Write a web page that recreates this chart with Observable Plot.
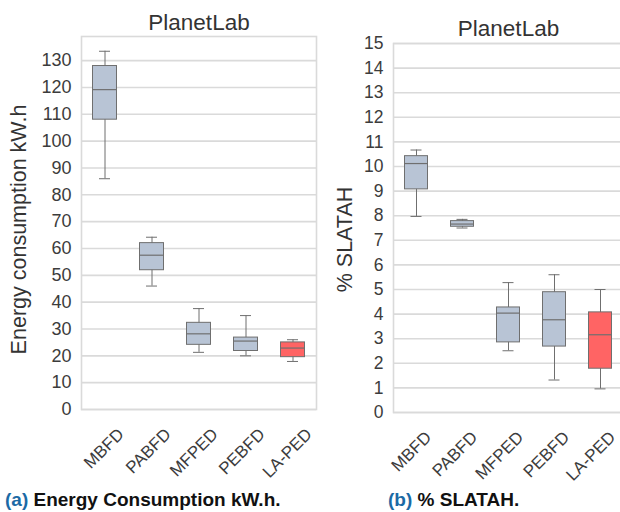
<!DOCTYPE html>
<html>
<head>
<meta charset="utf-8">
<script src="https://cdn.jsdelivr.net/npm/d3@7"></script>
<script src="https://cdn.jsdelivr.net/npm/@observablehq/plot@0.6"></script>
<style>
  html, body { margin: 0; padding: 0; background: #fff; width: 620px; height: 512px; overflow: hidden; }
  #wrap { position: relative; width: 620px; height: 512px; overflow: hidden; font-family: "Liberation Sans", Arial, sans-serif; }
  .panel { position: absolute; top: 0; }
  .panel svg { max-width: none !important; display: block; }
  .cap { position: absolute; top: 490px; font-size: 19px; font-weight: bold; color: #111; line-height: 20px; white-space: nowrap; }
  .cap span { color: #1b6aa5; }
</style>
</head>
<body>
<div id="wrap">
  <div class="panel" id="left" style="left:0px; width:320px"></div>
  <div class="panel" id="right" style="left:320px; width:310px"></div>
  <div class="cap" style="left:5px"><span>(a)</span> Energy Consumption kW.h.</div>
  <div class="cap" style="left:388px"><span>(b)</span> % SLATAH.</div>
</div>
<script>
const categories = ["MBFD", "PABFD", "MFPED", "PEBFD", "LA-PED"];
const boxColors = ["#b8c4d5", "#b8c4d5", "#b8c4d5", "#b8c4d5", "#ff6464"];

// Energy consumption (kW.h)
const energyLow  = [86, 46, 21.3, 20, 17.9];
const energyQ1   = [108, 51.9, 24.1, 21.8, 19.5];
const energyMed  = [119.2, 57.5, 28.2, 25.5, 22.9];
const energyQ3   = [128, 62, 32.3, 26.8, 25];
const energyHigh = [133.5, 64.2, 37.6, 35, 26];
const energyTicks = [0,10,20,30,40,50,60,70,80,90,100,110,120,130];

// % SLATAH
const slaLow  = [7.97, 7.5, 2.51, 1.32, 0.96];
const slaQ1   = [9.07, 7.55, 2.85, 2.68, 1.78];
const slaMed  = [10.12, 7.66, 4.04, 3.77, 3.16];
const slaQ3   = [10.42, 7.78, 4.27, 4.89, 4.07];
const slaHigh = [10.67, 7.85, 5.28, 5.6, 5.0];
const slaTicks = [0,1,2,3,4,5,6,7,8,9,10,11,12,13,14,15];

function rows(low, q1, med, q3, high) {
  return categories.map((c, i) => ({cat: c, low: low[i], q1: q1[i], med: med[i], q3: q3[i], high: high[i], color: boxColors[i]}));
}

const stroke = "#6f6f6f";
const gridColor = "#dadada";
const textColor = "#3c3c3c";

function chart({data, ticks, yMax, width, marginLeft, marginRight, marginTop, marginBottom, label, labelDx, labelDy, boxInset, capInset, tickDx, tickDy, titleDy, tickFont}) {
  return Plot.plot({
    width, height: 450,
    marginLeft, marginRight, marginTop, marginBottom,
    style: {fontFamily: "'Liberation Sans', Arial, sans-serif", background: "transparent", overflow: "visible"},
    x: {type: "band", domain: categories, padding: 0, axis: null},
    y: {domain: [0, yMax], axis: null},
    color: {type: "identity"},
    marks: [
      Plot.gridY(ticks, {stroke: gridColor, strokeOpacity: 1, strokeWidth: 1.6}),
      Plot.frame({stroke: gridColor, strokeWidth: 1.6}),
      Plot.axisY(ticks, {tickSize: 0, tickPadding: 10, fontSize: tickFont, color: textColor, label: null}),
      Plot.ruleX(data, {x: "cat", y1: "low", y2: "high", stroke, strokeWidth: 1}),
      Plot.tickY(data, {x: "cat", y: "low", stroke, insetLeft: capInset, insetRight: capInset}),
      Plot.tickY(data, {x: "cat", y: "high", stroke, insetLeft: capInset, insetRight: capInset}),
      Plot.barY(data, {x: "cat", y1: "q1", y2: "q3", fill: "color", stroke, strokeWidth: 1, insetLeft: boxInset, insetRight: boxInset}),
      Plot.tickY(data, {x: "cat", y: "med", stroke, strokeWidth: 1.2, insetLeft: boxInset, insetRight: boxInset}),
      Plot.text(categories, {x: d => d, frameAnchor: "bottom", rotate: -45, textAnchor: "end", lineAnchor: "middle", dx: tickDx, dy: tickDy, fontSize: 17, fill: textColor}),
      Plot.text(["PlanetLab"], {frameAnchor: "top", textAnchor: "middle", lineAnchor: "middle", dy: titleDy, fontSize: 22.5, fill: "#333"}),
      Plot.text([label], {frameAnchor: "left", textAnchor: "middle", lineAnchor: "middle", rotate: -90, dx: labelDx, dy: labelDy, fontSize: 21.5, fill: "#333"})
    ]
  });
}

document.getElementById("left").appendChild(chart({
  data: rows(energyLow, energyQ1, energyMed, energyQ3, energyHigh),
  ticks: energyTicks, yMax: 139, width: 320,
  marginLeft: 81, marginRight: 4, marginTop: 36, marginBottom: 41,
  label: "Energy consumption kW.h", labelDx: -62, labelDy: 6.5,
  boxInset: 11.5, capInset: 18, tickDx: 16, tickDy: 22, titleDy: -14, tickFont: 18
}));

document.getElementById("right").appendChild(chart({
  data: rows(slaLow, slaQ1, slaMed, slaQ3, slaHigh),
  ticks: slaTicks, yMax: 15, width: 310,
  marginLeft: 73, marginRight: 7, marginTop: 43, marginBottom: 38,
  label: "% SLATAH", labelDx: -48, labelDy: 11.5,
  boxInset: 11.5, capInset: 17.5, tickDx: 12, tickDy: 22, titleDy: -15, tickFont: 17.5
}));
</script>
</body>
</html>
